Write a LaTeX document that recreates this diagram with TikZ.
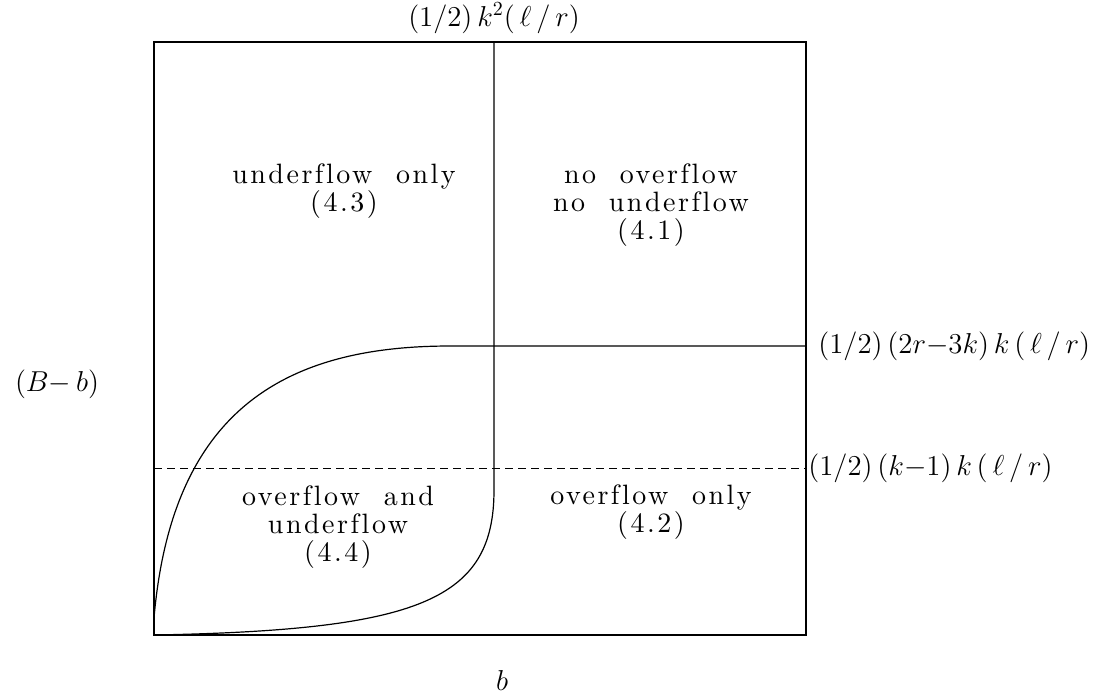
\documentclass[tikz,border=0pt]{standalone}
\usepackage{fontspec}
\newfontfamily\regionfont{lmroman10-regular.otf}[LetterSpace=9,Ligatures=CommonOff]
\usetikzlibrary{positioning}
\tikzset{
  region/.style={align=center, inner sep=0pt,
                 font=\regionfont\fontsize{14}{14}\selectfont},
  bound/.style={font=\fontsize{14}{16}\selectfont, inner sep=0pt},
  frame/.style={line width=0.75pt},
  curve/.style={line width=0.6pt},
  level/.style={line width=0.5pt, dash pattern=on 4pt off 2.5pt},
}

\begin{document}
\begin{tikzpicture}[x=0.5pt, y=-0.5pt]
  \useasboundingbox (0,0) rectangle (1107,698);
  % corners of the frame and the break points
  \coordinate (sw) at (154,635);
  \coordinate (ne) at (806,42);
  \coordinate (top) at (494,42);
  \coordinate (bend) at (494,490);
  \coordinate (start) at (154,618);
  \coordinate (knee) at (450,346);
  \coordinate (right) at (806,346);
  \coordinate (dashl) at (154,468);
  \coordinate (dashr) at (806,468);
  \draw[frame] (sw) rectangle (ne);
  % overflow boundary
  \draw[level] (dashl) -- (dashr);
  % the two curves
  \draw[curve] (sw) .. controls (420,630) and (494,600) .. (bend) -- (top);
  \draw[curve] (start) .. controls (172,410) and (285,346) .. (knee) -- (right);
  % bound labels
  \node[bound, above=4pt of top] (ktop) {$(1/2)\,k^2(\,\ell\,/\,r)$};
  \node[bound, right=6pt of right] (kmid) {$(1/2)\,(2r{-}3k)\,k\,(\,\ell\,/\,r)$};
  \node[bound, right=1pt of dashr] (klow) {$(1/2)\,(k{-}1)\,k\,(\,\ell\,/\,r)$};
  \node[bound] (yaxis) at (57,384) {$(B{-}\,b)$};
  \node[bound] (xaxis) at (502,680) {$b$};
  % regions
  \node[region] (r43) at (344,191) {underflow\ \ only\\(4.3)};
  \node[region] (r41) at (651,205) {no\ \ overflow\\no\ \ underflow\\(4.1)};
  \node[region] (r44) at (338,527) {overflow\ \ and\\underflow\\(4.4)};
  \node[region] (r42) at (651,512) {overflow\ \ only\\(4.2)};
\end{tikzpicture}
\end{document}
